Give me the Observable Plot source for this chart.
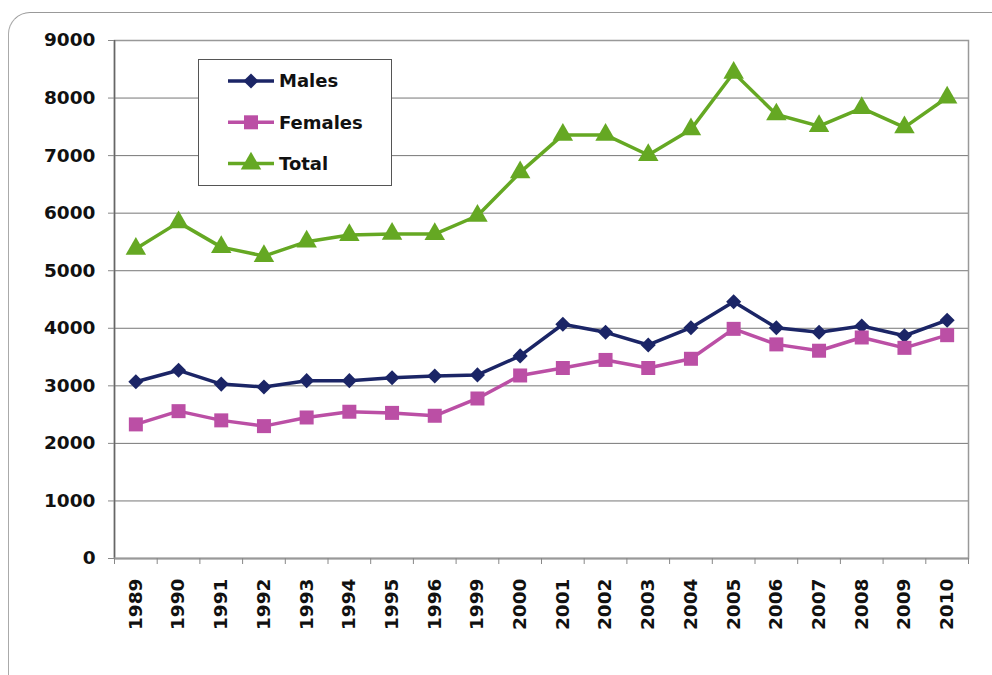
<!DOCTYPE html>
<html>
<head>
<meta charset="utf-8">
<script src="https://cdn.jsdelivr.net/npm/d3@7"></script>
<script src="https://cdn.jsdelivr.net/npm/@observablehq/plot@0.6"></script>
<style>
  html, body { margin: 0; padding: 0; background: #fff; }
  #wrap { position: relative; width: 992px; height: 675px; overflow: hidden; font-family: "DejaVu Sans", Verdana, sans-serif; }
  #outer { position: absolute; left: 8px; top: 12px; width: 1000px; height: 700px; border-top: 1px solid #999; border-left: 1.5px solid #aaa; border-top-left-radius: 22px; pointer-events: none; }
  #legend { position: absolute; left: 198px; top: 59px; width: 192px; height: 125px; border: 1px solid #555; background: #fff; }
  #legend svg { display: block; }
</style>
</head>
<body>
<div id="wrap">
  <div id="chart"></div>
  <div id="outer"></div>
  <div id="legend"></div>
</div>
<script>
const years = ["1989","1990","1991","1992","1993","1994","1995","1996","1999","2000","2001","2002","2003","2004","2005","2006","2007","2008","2009","2010"];
const males = [3070,3270,3030,2980,3090,3090,3140,3170,3190,3520,4070,3930,3710,4010,4460,4010,3930,4040,3870,4140];
const females = [2330,2560,2400,2300,2450,2550,2530,2480,2780,3180,3310,3450,3310,3470,3990,3720,3610,3840,3660,3880];
const total = [5380,5840,5410,5255,5505,5620,5640,5637,5955,6708,7360,7360,7010,7455,8440,7715,7512,7825,7490,8010];
const seriesNames = ["Males", "Females", "Total"];
const yTicks = [0,1000,2000,3000,4000,5000,6000,7000,8000,9000];

const seriesValues = [males, females, total];
const seriesColors = ["#1b2566", "#bb4fa5", "#65a823"];
const seriesSymbols = ["diamond2", "square", "triangle"];
const seriesR = [6.8, 7.9, 7.6];

const data = [];
seriesNames.forEach((s, k) => seriesValues[k].forEach((v, i) => data.push({series: s, i, year: years[i], value: v})));

const n = years.length;
const centers = d3.range(n);
const bounds = d3.range(n + 1).map(i => i - 0.5);
const fontStyle = {fontSize: 18.5, fontWeight: "bold", fontFamily: "DejaVu Sans, Verdana, sans-serif"};

const marks = [
  Plot.gridY(yTicks, {stroke: "#777", strokeOpacity: 1, strokeWidth: 1}),
  Plot.frame({stroke: "#999", strokeWidth: 1.5}),
  Plot.ruleX([bounds[0]], {stroke: "#666", strokeWidth: 1.5}),
  Plot.ruleY([0], {stroke: "#999", strokeWidth: 2}),
  Plot.axisY(yTicks, {tickSize: 6, tickPadding: 13, stroke: "#888", fill: "#111", label: null, tickFormat: d => String(d), ...fontStyle}),
  Plot.axisX(bounds, {tickSize: 6, stroke: "#888", label: null, tickFormat: () => ""}),
  Plot.axisX(centers, {tickSize: 0, tickPadding: 20, tickRotate: -90, label: null, tickFormat: i => years[i], fill: "#111", ...fontStyle})
];
seriesNames.forEach((s, k) => {
  const d = data.filter(r => r.series === s);
  marks.push(Plot.line(d, {x: "i", y: "value", stroke: seriesColors[k], strokeWidth: 3.5}));
  marks.push(Plot.dot(d, {x: "i", y: "value", symbol: () => seriesSymbols[k], r: seriesR[k], fill: seriesColors[k], stroke: "none"}));
});

const chart = Plot.plot({
  width: 992,
  height: 675,
  marginLeft: 114,
  marginRight: 24,
  marginTop: 40,
  marginBottom: 117,
  style: {background: "transparent", overflow: "visible"},
  x: {type: "linear", domain: [bounds[0], bounds[n]], axis: null, label: null},
  y: {domain: [0, 9000], axis: null, label: null},
  symbol: {type: "identity"},
  marks
});
document.getElementById("chart").appendChild(chart);

// Legend
const lg = d3.select("#legend").append("svg").attr("width", 192).attr("height", 125);
seriesNames.forEach((s, k) => {
  const cy = 21 + k * 41.3;
  const g = lg.append("g").attr("transform", `translate(0,${cy})`);
  g.append("line").attr("x1", 29).attr("x2", 75).attr("y1", 0).attr("y2", 0)
    .attr("stroke", seriesColors[k]).attr("stroke-width", 3.5);
  const symMap = {diamond2: d3.symbolDiamond2, square: d3.symbolSquare, triangle: d3.symbolTriangle};
  g.append("path").attr("transform", "translate(52,0)")
    .attr("d", d3.symbol(symMap[seriesSymbols[k]], Math.PI * seriesR[k] * seriesR[k])())
    .attr("fill", seriesColors[k]);
  g.append("text").attr("x", 80).attr("y", 0).attr("dy", "0.36em")
    .attr("font-size", 18).attr("font-weight", "bold").attr("fill", "#111")
    .attr("font-family", "DejaVu Sans, Verdana, sans-serif").text(s);
});
</script>
</body>
</html>
